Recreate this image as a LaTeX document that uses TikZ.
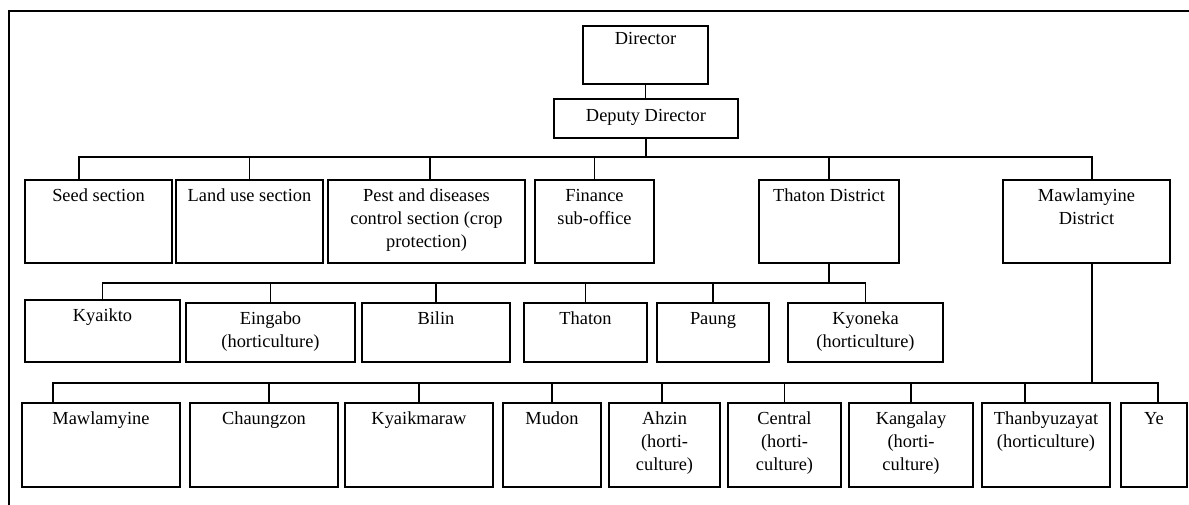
\documentclass[tikz,border=0pt]{standalone}
\usepackage{fontspec}
\setmainfont{Liberation Serif}
\usepackage{tikz}
\usetikzlibrary{positioning}

\begin{document}
\begin{tikzpicture}[
		x=1pt, y=-1pt,
		font=\fontsize{18.4}{23}\selectfont,
		line width=1.4pt,
		box/.style 2 args={draw, minimum width=#1, minimum height=#2, inner sep=0pt},
		txt/.style={anchor=north, align=center, inner ysep=9pt, inner xsep=0pt},
		link/.style={line width=1.4pt}
	]
		\useasboundingbox (0,0) rectangle (1189,504);
		\clip (0,0) rectangle (1189,504);
		\draw (9,11) rectangle (1200,515);

		% top
		\node[box={125pt}{58pt}, label={[txt, inner ysep=6pt]north:Director}] (dir) at (645.5,55) {};
		\node[box={184pt}{39pt}, label={[txt, inner ysep=10pt]north:Deputy Director}] (dep) at (646,118.5) {};

		% sections and districts
		\node[box={147pt}{83pt}, label={[txt]north:Seed section}] (seed) at (98.5,221.5) {};
		\node[box={147pt}{83pt}, label={[txt]north:Land use section}] (land) at (249.5,221.5) {};
		\node[box={197pt}{83pt}, label={[txt]north:{Pest and diseases\\control section (crop\\protection)}}] (pest) at (426.5,221.5) {};
		\node[box={119pt}{83pt}, label={[txt]north:{Finance\\sub-office}}] (fin) at (594.5,221.5) {};
		\node[box={140pt}{83pt}, label={[txt]north:Thaton District}] (thd) at (829,221.5) {};
		\node[box={167pt}{83pt}, label={[txt]north:{Mawlamyine\\District}}] (mwd) at (1086.5,221.5) {};

		% Thaton townships
		\node[box={155pt}{62pt}, label={[txt]north:Kyaikto}] (kyk) at (102.5,331) {};
		\node[box={169pt}{59pt}, label={[txt]north:{Eingabo\\(horticulture)}}] (eing) at (270.5,332.5) {};
		\node[box={148pt}{59pt}, label={[txt]north:Bilin}] (bil) at (436,332.5) {};
		\node[box={123pt}{59pt}, label={[txt]north:Thaton}] (tha) at (585.5,332.5) {};
		\node[box={112pt}{59pt}, label={[txt]north:Paung}] (pau) at (713,332.5) {};
		\node[box={155pt}{59pt}, label={[txt]north:{Kyoneka\\(horticulture)}}] (kyo) at (865.5,332.5) {};

		% Mawlamyine townships
		\node[box={158pt}{84pt}, label={[txt]north:Mawlamyine}] (mlm) at (101,445) {};
		\node[box={148pt}{84pt}, label={[txt]north:Chaungzon}] (chz) at (264,445) {};
		\node[box={148pt}{84pt}, label={[txt]north:Kyaikmaraw}] (kym) at (419,445) {};
		\node[box={98pt}{84pt}, label={[txt]north:Mudon}] (mud) at (552,445) {};
		\node[box={111pt}{84pt}, label={[txt]north:{Ahzin\\(horti-\\culture)}}] (ahz) at (664.5,445) {};
		\node[box={113pt}{84pt}, label={[txt]north:{Central\\(horti-\\culture)}}] (cen) at (784.5,445) {};
		\node[box={124pt}{84pt}, label={[txt]north:{Kangalay\\(horti-\\culture)}}] (kan) at (911,445) {};
		\node[box={128pt}{84pt}, label={[txt]north:{Thanbyuzayat\\(horticulture)}}] (thb) at (1046,445) {};
		\node[box={66pt}{84pt}, label={[txt]north:Ye}] (ye) at (1154,445) {};

		\coordinate (b1) at (647,157);
		\coordinate (b2) at (829,283);
		\coordinate (b3) at (1092,383);

		\draw[link] (dir.south) -- (dir.south |- dep.north);
		\draw[link] (dep.south) -- (dep.south |- b1);
		\foreach \n/\dx in {seed/-19.5, land/0, pest/3.5, fin/0, thd/0, mwd/5.5}
			\draw[link] ([xshift=\dx pt]\n.north) |- (b1);

		\draw[link] (thd.south) -- (b2);
		\foreach \n in {kyk, eing, bil, tha, pau, kyo}
			\draw[link] (\n.north) |- (b2);

		\draw[link] (b3 |- mwd.south) -- (b3);
		\foreach \n/\dx in {mlm/-48, chz/5, kym/0, mud/0, ahz/-2.5, cen/0, kan/0, thb/-21, ye/4}
			\draw[link] ([xshift=\dx pt]\n.north) |- (b3);
	\end{tikzpicture}
\end{document}
